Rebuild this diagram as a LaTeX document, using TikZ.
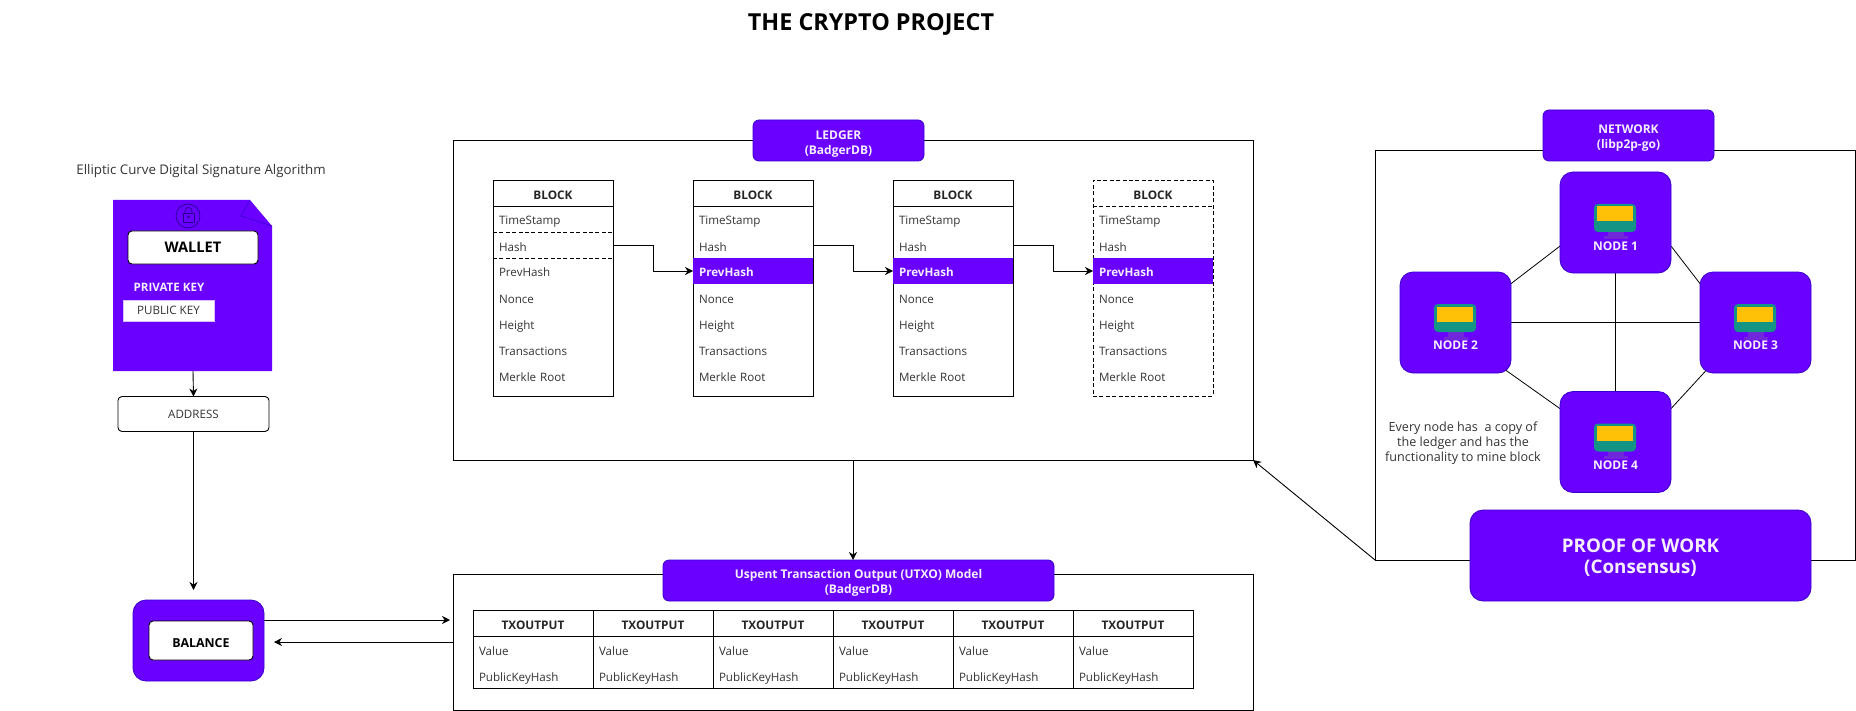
\documentclass[tikz,border=0pt]{standalone}
\usepackage{fontspec}
\setmainfont{Open Sans}
\usetikzlibrary{arrows.meta,backgrounds}
\definecolor{violet}{HTML}{6A00FF}
\definecolor{violetline}{HTML}{3700CC}
\definecolor{lilac}{HTML}{F6EEFF}
\definecolor{bodytext}{HTML}{333333}
\tikzset{
  arrow/.style={draw=black,line width=0.45pt,-{Stealth[length=4pt,width=4pt]}},
  link/.style={draw=black,line width=0.4pt},
  shortdash/.style={dash pattern=on 2pt off 1.2pt},
  frame/.style={draw=black,line width=0.45pt},
  titletext/.style={font=\fontsize{11.7}{13}\selectfont\bfseries,text=black},
  plaintext/.style={font=\fontsize{6.3}{7.5}\selectfont,text=bodytext,align=center},
  tag/.style={draw=violetline,line width=0.4pt,fill=violet,rounded corners=3pt},
  tagtext/.style={text=lilac,font=\fontsize{6}{7.5}\selectfont\bfseries,align=center},
  peerbox/.style={draw=violetline,line width=0.4pt,fill=violet,rounded corners=6.5pt,minimum width=55.5pt,minimum height=50.5pt},
  peertext/.style={text=lilac,font=\fontsize{6}{7.5}\selectfont\bfseries},
  whitebox/.style={draw=black,line width=0.45pt,fill=white,rounded corners=2pt},
  blockbox/.style={draw=black,line width=0.45pt,minimum width=60pt,minimum height=108pt},
  headcell/.style={draw=black,line width=0.45pt,minimum width=60pt,minimum height=13pt,text height=7.4pt,text depth=1.4pt,font=\fontsize{5.9}{7.5}\selectfont\bfseries,text=black!85},
  rowcell/.style={anchor=west,minimum height=13pt,text width=54pt,text height=7.4pt,text depth=1.4pt,inner xsep=3pt,align=left,font=\fontsize{5.8}{7.5}\selectfont,text=bodytext},
  hotcell/.style={rowcell,fill=violet,text=lilac,font=\fontsize{5.8}{7.5}\selectfont\bfseries},
  monitor/.pic={
    \fill[fill=violet!70!gray] (-8,9) rectangle (8,17);
    \fill[fill=violet!70!gray] (-12,14) rectangle (12,17);
    \fill[fill={rgb,255:red,19;green,148;blue,133},rounded corners=2pt] (-21.5,-18.5) rectangle (20.5,9.5);
    \fill[fill={rgb,255:red,255;green,193;blue,7}] (-18.5,-16) rectangle (17.5,-1);
  }
}
\begin{document}
\begin{tikzpicture}[x=0.5pt,y=-0.5pt]
\tikzstyle{every node}+=[inner sep=0pt,outer sep=0pt]
\useasboundingbox (0,0) rectangle (1856,711);
\node[titletext] (title) at (871,24) {THE CRYPTO PROJECT};
% wallet
\node[plaintext,font=\fontsize{6.65}{8}\selectfont] (curve) at (201,171.5) {Elliptic Curve Digital Signature Algorithm};
\fill[violet] (113,200) -- (250,200) -- (272,226) -- (272,371) -- (113,371) -- cycle;
\draw[violetline,line width=0.3pt] (250,200) -- (241,216) -- (272,226);
\node[minimum width=79.5pt,minimum height=85.5pt] (wallet) at (193,285.5) {};
\node[draw=violetline!70!black,line width=0.35pt,circle,minimum size=12pt] (lock) at (188,216) {};
\draw[violetline!70!black,line width=0.35pt] (183,213) rectangle (194,222);
\draw[violetline!70!black,line width=0.35pt] (185,213) -- (185,211) arc (180:360:3.5) -- (192,213);
\fill[violetline!70!black] (188.5,217) circle (1.3);
\node[whitebox,minimum width=65pt,minimum height=16.5pt,font=\fontsize{7.3}{9}\selectfont\bfseries] (walletbox) at (193,247.5) {WALLET};
\node[text=lilac,font=\fontsize{5.8}{7.5}\selectfont\bfseries] (private) at (169,287.5) {PRIVATE KEY};
\node[draw=lilac!80!violet,line width=0.4pt,fill=white,minimum width=45.5pt,minimum height=10.5pt,text height=5.4pt,text depth=1.2pt,font=\fontsize{5.8}{7.5}\selectfont,text=bodytext] (public) at (168.5,310.5) {PUBLIC KEY};
\node[whitebox,minimum width=75.5pt,minimum height=17.5pt,font=\fontsize{5.8}{7.5}\selectfont,text=bodytext] (address) at (193.5,414) {ADDRESS};
\node[peerbox,minimum width=65.5pt,minimum height=40.5pt] (balance) at (198.5,640.5) {};
\node[whitebox,minimum width=52pt,minimum height=19.5pt,text height=8pt,text depth=1.4pt,font=\fontsize{6.2}{8}\selectfont\bfseries] (balancebox) at (201,640.5) {BALANCE};
\draw[arrow] (wallet.south) -- (address.north);
\coordinate (balancein) at (193.5,590);
\draw[arrow] (address.south) -- (balancein);
% ledger
\node[frame,minimum width=400pt,minimum height=160pt] (ledger) at (853,300) {};
\node[tag,minimum width=85.5pt,minimum height=20.5pt] (ledgertag) at (838.5,140.5) {};
\node[tagtext] (ledgertext) at (838.5,144) {LEDGER\\(BadgerDB)};
\node[blockbox] (block1) at (553,288) {};
\node[headcell] (head1) at (553,193) {BLOCK};
\node[rowcell] (stamp1) at (493,219) {TimeStamp};
\node[rowcell] (hash1) at (493,245) {Hash};
\node[rowcell] (prev1) at (493,271) {PrevHash};
\node[rowcell] (nonce1) at (493,297) {Nonce};
\node[rowcell] (height1) at (493,323) {Height};
\node[rowcell] (trans1) at (493,349) {Transactions};
\node[rowcell] (root1) at (493,375) {Merkle Root};
\draw[link,shortdash] (hash1.north west) -- (hash1.north east);
\draw[link,shortdash] (hash1.south west) -- (hash1.south east);
\node[blockbox] (block2) at (753,288) {};
\node[headcell] (head2) at (753,193) {BLOCK};
\node[rowcell] (stamp2) at (693,219) {TimeStamp};
\node[rowcell] (hash2) at (693,245) {Hash};
\node[hotcell] (prev2) at (693,271) {PrevHash};
\node[rowcell] (nonce2) at (693,297) {Nonce};
\node[rowcell] (height2) at (693,323) {Height};
\node[rowcell] (trans2) at (693,349) {Transactions};
\node[rowcell] (root2) at (693,375) {Merkle Root};
\node[blockbox] (block3) at (953,288) {};
\node[headcell] (head3) at (953,193) {BLOCK};
\node[rowcell] (stamp3) at (893,219) {TimeStamp};
\node[rowcell] (hash3) at (893,245) {Hash};
\node[hotcell] (prev3) at (893,271) {PrevHash};
\node[rowcell] (nonce3) at (893,297) {Nonce};
\node[rowcell] (height3) at (893,323) {Height};
\node[rowcell] (trans3) at (893,349) {Transactions};
\node[rowcell] (root3) at (893,375) {Merkle Root};
\node[blockbox,shortdash] (block4) at (1153,288) {};
\node[headcell,draw=none] (head4) at (1153,193) {BLOCK};
\draw[link,shortdash] (head4.south west) -- (head4.south east);
\node[rowcell] (stamp4) at (1093,219) {TimeStamp};
\node[rowcell] (hash4) at (1093,245) {Hash};
\node[hotcell] (prev4) at (1093,271) {PrevHash};
\node[rowcell] (nonce4) at (1093,297) {Nonce};
\node[rowcell] (height4) at (1093,323) {Height};
\node[rowcell] (trans4) at (1093,349) {Transactions};
\node[rowcell] (root4) at (1093,375) {Merkle Root};
\draw[arrow] (hash1.east) -- ++(40,0) |- (prev2.west);
\draw[arrow] (hash2.east) -- ++(40,0) |- (prev3.west);
\draw[arrow] (hash3.east) -- ++(40,0) |- (prev4.west);
% utxo
\node[frame,minimum width=400pt,minimum height=68pt] (utxo) at (853,642) {};
\node[tag,minimum width=195.5pt,minimum height=20.5pt] (utxotag) at (858.5,580.5) {};
\node[tagtext] (utxotext) at (858.5,583) {Uspent Transaction Output (UTXO) Model\\(BadgerDB)};
\node[headcell] (txhead1) at (533,623) {TXOUTPUT};
\node[headcell] (txhead2) at (653,623) {TXOUTPUT};
\node[headcell] (txhead3) at (773,623) {TXOUTPUT};
\node[headcell] (txhead4) at (893,623) {TXOUTPUT};
\node[headcell] (txhead5) at (1013,623) {TXOUTPUT};
\node[headcell] (txhead6) at (1133,623) {TXOUTPUT};
\node[headcell,minimum height=26pt] (txbody1) at (533,662) {};
\node[headcell,minimum height=26pt] (txbody2) at (653,662) {};
\node[headcell,minimum height=26pt] (txbody3) at (773,662) {};
\node[headcell,minimum height=26pt] (txbody4) at (893,662) {};
\node[headcell,minimum height=26pt] (txbody5) at (1013,662) {};
\node[headcell,minimum height=26pt] (txbody6) at (1133,662) {};
\node[rowcell] (value1) at (473,649) {Value};
\node[rowcell] (value2) at (593,649) {Value};
\node[rowcell] (value3) at (713,649) {Value};
\node[rowcell] (value4) at (833,649) {Value};
\node[rowcell] (value5) at (953,649) {Value};
\node[rowcell] (value6) at (1073,649) {Value};
\node[rowcell] (key1) at (473,675) {PublicKeyHash};
\node[rowcell] (key2) at (593,675) {PublicKeyHash};
\node[rowcell] (key3) at (713,675) {PublicKeyHash};
\node[rowcell] (key4) at (833,675) {PublicKeyHash};
\node[rowcell] (key5) at (953,675) {PublicKeyHash};
\node[rowcell] (key6) at (1073,675) {PublicKeyHash};
\draw[arrow] (ledger.south) -- (ledger.south |- utxotag.north);
\coordinate (utxoin) at (450,620);
\coordinate (utxoout) at (453,642);
\coordinate (balanceout) at (264,620);
\coordinate (balanceback) at (274,642);
\draw[arrow] (balanceout) -- (utxoin);
\draw[arrow] (utxoout) -- (balanceback);
% network
\node[frame,minimum width=240pt,minimum height=205pt] (network) at (1615,355) {};
\node[tag,minimum width=85.5pt,minimum height=25.5pt] (networktag) at (1628.5,135.5) {};
\node[tagtext] (networktext) at (1628.5,138.5) {NETWORK\\(libp2p-go)};
\node[peerbox] (node1) at (1615.5,222.5) {};
\node[peerbox] (node2) at (1455.5,322.5) {};
\node[peerbox] (node3) at (1755.5,322.5) {};
\node[peerbox] (node4) at (1615.5,442) {};
\pic at (node1) {monitor};
\pic at (node2) {monitor};
\pic at (node3) {monitor};
\pic at (node4) {monitor};
\node[peertext] (name1) at (1615.5,246) {NODE 1};
\node[peertext] (name2) at (1455.5,345.5) {NODE 2};
\node[peertext] (name3) at (1755.5,345.5) {NODE 3};
\node[peertext] (name4) at (1615.5,465.5) {NODE 4};
\node[plaintext] (note) at (1463,443) {Every node has\ \ a copy of\\the ledger and has the\\functionality to mine block};
\node[peerbox,minimum width=170.5pt,minimum height=45.5pt] (consensus) at (1640.5,555.5) {};
\node[tagtext,font=\fontsize{9.4}{10.5}\selectfont\bfseries] (consensustext) at (1640.5,558) {PROOF OF WORK\\(Consensus)};
\begin{scope}[on background layer]
\draw[link] (node2.35) -- (node1.203);
\draw[link] (node1.-23) -- (node3.145);
\draw[link] (node2.-43) ++(-7,-5) -- (node4.149);
\draw[link] (node3.-137) ++(7,-5) -- (node4.31);
\draw[link] (node2.east) -- (node3.west);
\draw[link] (node1.south) -- (node4.north);
\end{scope}
\draw[arrow] (network.south west) -- (ledger.south east);
\end{tikzpicture}
\end{document}
